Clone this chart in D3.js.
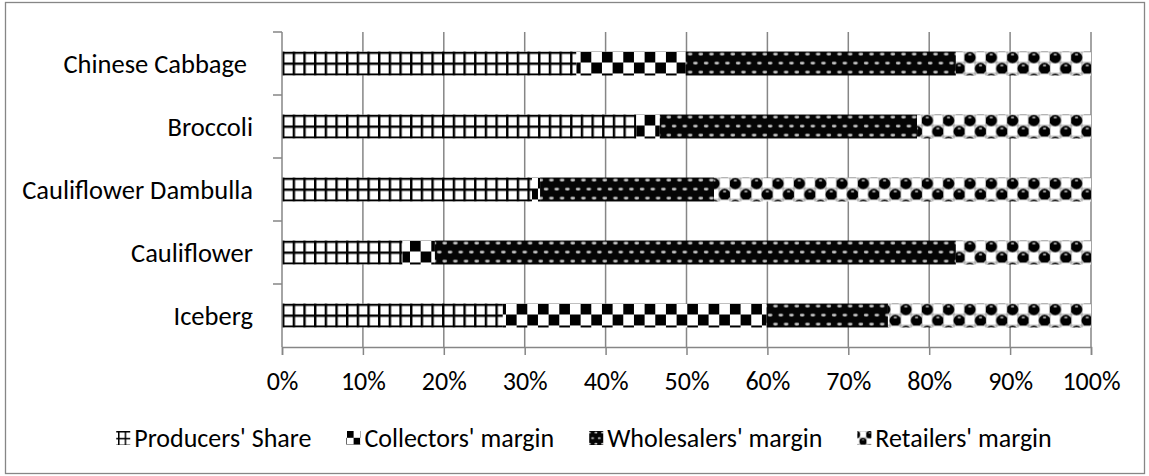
<!DOCTYPE html>
<html>
<head>
<meta charset="utf-8">
<script src="https://cdn.jsdelivr.net/npm/d3@7"></script>
<style>
  html, body { margin: 0; padding: 0; background: #fff; }
  svg { display: block; }
  text { font-family: Calibri, Carlito, Lato, sans-serif; fill: #000; }
</style>
</head>
<body>
<svg id="chart" width="1149" height="476"></svg>
<script>
// ---- data ----
const categories = ["Chinese Cabbage ", "Broccoli", "Cauliflower Dambulla", "Cauliflower", "Iceberg"];
const seriesNames = ["Producers' Share", "Collectors' margin", "Wholesalers' margin", "Retailers' margin"];
const producersShare = [36.4, 43.8, 30.9, 14.9, 27.3];
const collectorsMargin = [13.5, 2.9, 1.0, 4.0, 32.6];
const wholesalersMargin = [33.4, 31.8, 21.5, 64.4, 15.0];
const retailersMargin = [16.7, 21.5, 46.6, 16.7, 25.1];
const xTickValues = [0, 10, 20, 30, 40, 50, 60, 70, 80, 90, 100];
const xTickLabels = ["0%", "10%", "20%", "30%", "40%", "50%", "60%", "70%", "80%", "90%", "100%"];

// ---- build table ----
const seriesValues = [producersShare, collectorsMargin, wholesalersMargin, retailersMargin];
const keys = ["p", "c", "w", "r"];
const table = categories.map((cat, i) => {
  const row = { cat };
  keys.forEach((k, j) => row[k] = seriesValues[j][i]);
  return row;
});
const stacked = d3.stack().keys(keys)(table);

const svg = d3.select("#chart");
const W = 1149, H = 476;
const plot = { left: 282, right: 1091, top: 32, bottom: 347 };

const x = d3.scaleLinear().domain([0, 100]).range([plot.left, plot.right]);
const y = d3.scaleBand().domain(categories).range([plot.top, plot.bottom])
  .paddingInner(0.62).paddingOuter(0.31);
const step = y.step();
const h = y.bandwidth() / 2 - 1;   // pattern cell height
const s = step / 7;                 // dotted-row spacing
const firstTop = y(categories[0]);
const grid = "#868686";

// chart border
svg.append("rect").attr("x", 5.5).attr("y", 2.5).attr("width", W - 10).attr("height", H - 5)
  .attr("fill", "#fff").attr("stroke", grid).attr("stroke-width", 1.3);

// ---- patterns (one per series and per bar row, aligned to the bar top) ----
const defs = svg.append("defs");
function makePattern(id, kind, tx, ty, k) {
  let pw, ph;
  if (kind === "p") { pw = 10.67; ph = h; }
  else if (kind === "c") { pw = 21.33; ph = 2 * h; }
  else if (kind === "w") { pw = 10.67; ph = 2 * s; }
  else { pw = 21.33; ph = 2 * h; }
  const p = defs.append("pattern").attr("id", id)
    .attr("patternUnits", "userSpaceOnUse")
    .attr("width", pw).attr("height", ph)
    .attr("patternTransform", `translate(${tx},${ty}) scale(${k})`);
  if (kind === "p") {
    p.append("rect").attr("width", pw).attr("height", ph).attr("fill", "#fff");
    p.append("rect").attr("x", 0).attr("y", 0).attr("width", pw).attr("height", 2.4).attr("fill", "#000");
    p.append("rect").attr("x", 0).attr("y", 0).attr("width", 2.4).attr("height", ph).attr("fill", "#000");
  } else if (kind === "c") {
    p.append("rect").attr("width", pw).attr("height", ph).attr("fill", "#fff");
    p.append("rect").attr("x", 0).attr("y", 0).attr("width", pw / 2).attr("height", h).attr("fill", "#000");
    p.append("rect").attr("x", pw / 2).attr("y", h).attr("width", pw / 2).attr("height", h).attr("fill", "#000");
  } else if (kind === "w") {
    p.append("rect").attr("width", pw).attr("height", ph).attr("fill", "#050505");
    p.append("ellipse").attr("cx", 2.67).attr("cy", 2.6).attr("rx", 2.4).attr("ry", 1.3).attr("fill", "#d0d0d0");
    p.append("ellipse").attr("cx", 8.0).attr("cy", 2.6 + s).attr("rx", 2.4).attr("ry", 1.3).attr("fill", "#d0d0d0");
  } else {
    p.append("rect").attr("width", pw).attr("height", ph).attr("fill", "#fff");
    p.append("rect").attr("x", 0).attr("y", 0).attr("width", pw).attr("height", ph)
      .attr("fill", "none").attr("stroke", "#9a9a9a").attr("stroke-width", 1);
    p.append("line").attr("x1", 0).attr("x2", pw).attr("y1", h).attr("y2", h).attr("stroke", "#9a9a9a");
    p.append("line").attr("x1", pw / 2).attr("x2", pw / 2).attr("y1", 0).attr("y2", ph).attr("stroke", "#9a9a9a");
    [[5.33, h / 2 + 0.5], [16, 1.5 * h + 0.5]].forEach(([cx, cy]) => {
      p.append("circle").attr("cx", cx).attr("cy", cy).attr("r", 5.8).attr("fill", "#000");
      p.append("ellipse").attr("cx", cx).attr("cy", cy - 3).attr("rx", 1.8).attr("ry", 1.0).attr("fill", "#aaa");
    });
  }
}
categories.forEach((c, ci) => {
  keys.forEach(k => makePattern(`pat-${k}-${ci}`, k, plot.left, y(c), 1));
});

// ---- gridlines & x ticks ----
svg.append("g").selectAll("line").data(xTickValues.filter(v => v > 0)).join("line")
  .attr("x1", d => x(d)).attr("x2", d => x(d))
  .attr("y1", plot.top).attr("y2", plot.bottom)
  .attr("stroke", grid).attr("stroke-width", 1.5);

const xAxis = d3.axisBottom(x).tickValues(xTickValues)
  .tickFormat((d, i) => xTickLabels[i]).tickSize(8).tickPadding(17);
const gx = svg.append("g").attr("transform", `translate(0,${plot.bottom})`).call(xAxis);
gx.select(".domain").attr("stroke", grid).attr("stroke-width", 1.5);
gx.selectAll(".tick line").attr("stroke", grid).attr("stroke-width", 1.5);
gx.selectAll(".tick text").attr("font-size", 26).attr("font-family", "Calibri, Carlito, Lato, sans-serif").attr("fill", "#000");

// ---- bars ----
svg.append("g").selectAll("g").data(stacked).join("g")
  .each(function(series) {
    d3.select(this).selectAll("rect").data(series).join("rect")
      .attr("fill", d => `url(#pat-${series.key}-${categories.indexOf(d.data.cat)})`)
      .attr("x", d => x(d[0]))
      .attr("width", d => x(d[1]) - x(d[0]))
      .attr("y", d => y(d.data.cat))
      .attr("height", y.bandwidth());
  });

// ---- y axis ----
const gy = svg.append("g");
gy.append("line").attr("x1", plot.left).attr("x2", plot.left)
  .attr("y1", plot.top).attr("y2", plot.bottom)
  .attr("stroke", grid).attr("stroke-width", 1.5);
const boundaries = categories.map(c => y(c) - (step - y.bandwidth()) / 2);
gy.selectAll("line.t").data(boundaries).join("line").attr("class", "t")
  .attr("x1", plot.left - 9).attr("x2", plot.left)
  .attr("y1", d => d).attr("y2", d => d)
  .attr("stroke", grid).attr("stroke-width", 1.5);
gy.selectAll("text").data(categories).join("text")
  .attr("x", 253).attr("y", d => y(d) + y.bandwidth() / 2)
  .attr("text-anchor", "end").attr("dominant-baseline", "central")
  .attr("font-size", 26.5).style("white-space", "pre")
  .text(d => d);

// ---- legend ----
const legY = 438;
const lg = svg.append("g");
const items = seriesNames.map((name, i) => {
  const g = lg.append("g");
  const t = g.append("text").attr("x", 20).attr("y", legY)
    .attr("dominant-baseline", "central").attr("font-size", 26).text(name);
  return { g, w: 20 + t.node().getComputedTextLength(), key: keys[i] };
});
const gap = 33;
const total = d3.sum(items, d => d.w) + gap * (items.length - 1);
let cx = 583 - total / 2;
items.forEach(it => {
  it.g.attr("transform", `translate(${cx},0)`);
  makePattern("leg-" + it.key, it.key, cx + 2, legY - 7, 0.62);
  it.g.insert("rect", "text").attr("x", 2).attr("y", legY - 7).attr("width", 14).attr("height", 14)
    .attr("fill", `url(#leg-${it.key})`);
  cx += it.w + gap;
});
</script>
</body>
</html>
